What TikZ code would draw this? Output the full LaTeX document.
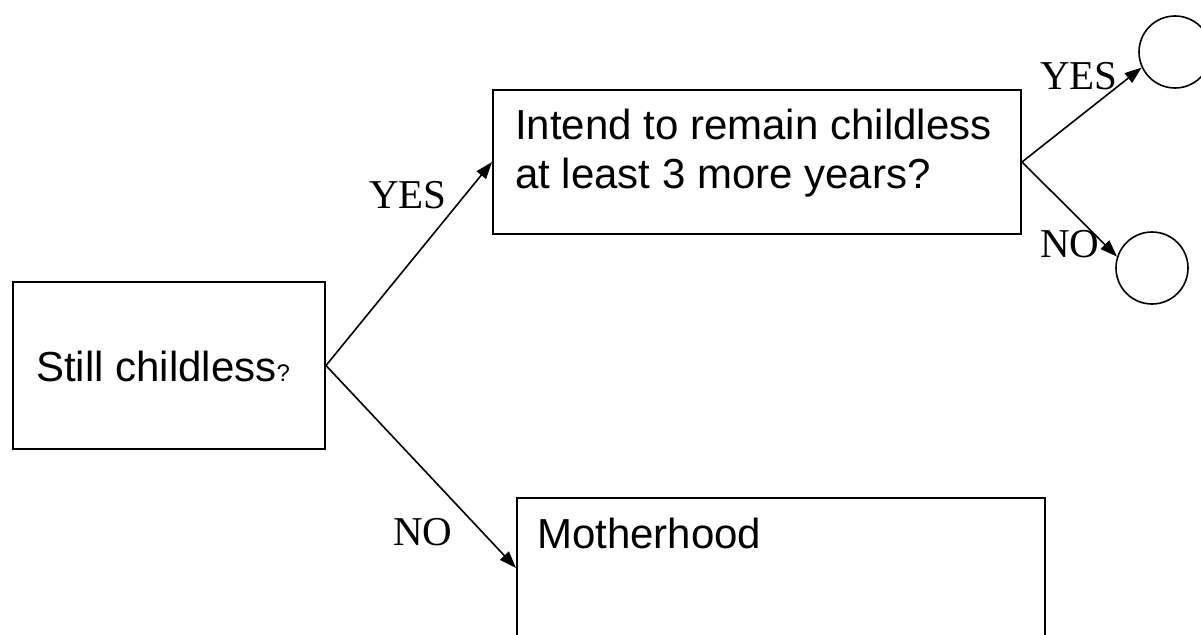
\documentclass[tikz,border=0pt]{standalone}
\usepackage{fontspec}
\setmainfont{Liberation Serif}
\newfontfamily\arialfont{Liberation Sans}
\usetikzlibrary{arrows.meta}
\begin{document}
\begin{tikzpicture}[x=1pt,y=-1pt,
  boxshape/.style={draw=black,line width=2pt,rectangle,inner sep=0pt,anchor=north west},
  circshape/.style={draw=black,line width=1.6pt,circle,inner sep=0pt,minimum size=72pt},
  boxtext/.style={inner sep=0pt,anchor=base west,font=\arialfont\fontsize{42}{49}\selectfont},
  lbl/.style={inner sep=0pt,anchor=base west,font=\fontsize{41}{49}\selectfont},
  arr/.style={line width=1.6pt,-{Triangle[length=17pt,width=12pt]}}]
\clip (0,0) rectangle (1201,634);
\fill[white] (0,0) rectangle (1201,634);
% boxes
\node[boxshape,minimum width=312pt,minimum height=167pt] (still) at (12,281) {};
\node[boxshape,minimum width=528pt,minimum height=144pt] (intend) at (492,89) {};
\node[boxshape,minimum width=528pt,minimum height=140pt] (mother) at (516,497) {};
% circles
\node[circshape] (c1) at (1175,52) {};
\node[circshape] (c2) at (1152,268) {};
% texts
\node[boxtext] (t1) at (36,381) {Still childless{\fontsize{24}{28}\selectfont ?}};
\node[boxtext] (t2) at (515,139) {Intend to remain childless};
\node[boxtext] (t3) at (515,188) {at least 3 more years?};
\node[boxtext] (t4) at (537,548) {Motherhood};
% connectors
\draw[arr] (still.east) -- (intend.west);
\draw[arr] (still.east) -- (mother.west);
\draw[arr] (intend.east) -- (c1.205);
\draw[arr] (intend.east) -- (c2.162);
% labels
\node[lbl] (l1) at (369,208) {YES};
\node[lbl] (l2) at (393,545) {NO};
\node[lbl] (l3) at (1040,89) {YES};
\node[lbl] (l4) at (1040,257) {NO};
\end{tikzpicture}
\end{document}
